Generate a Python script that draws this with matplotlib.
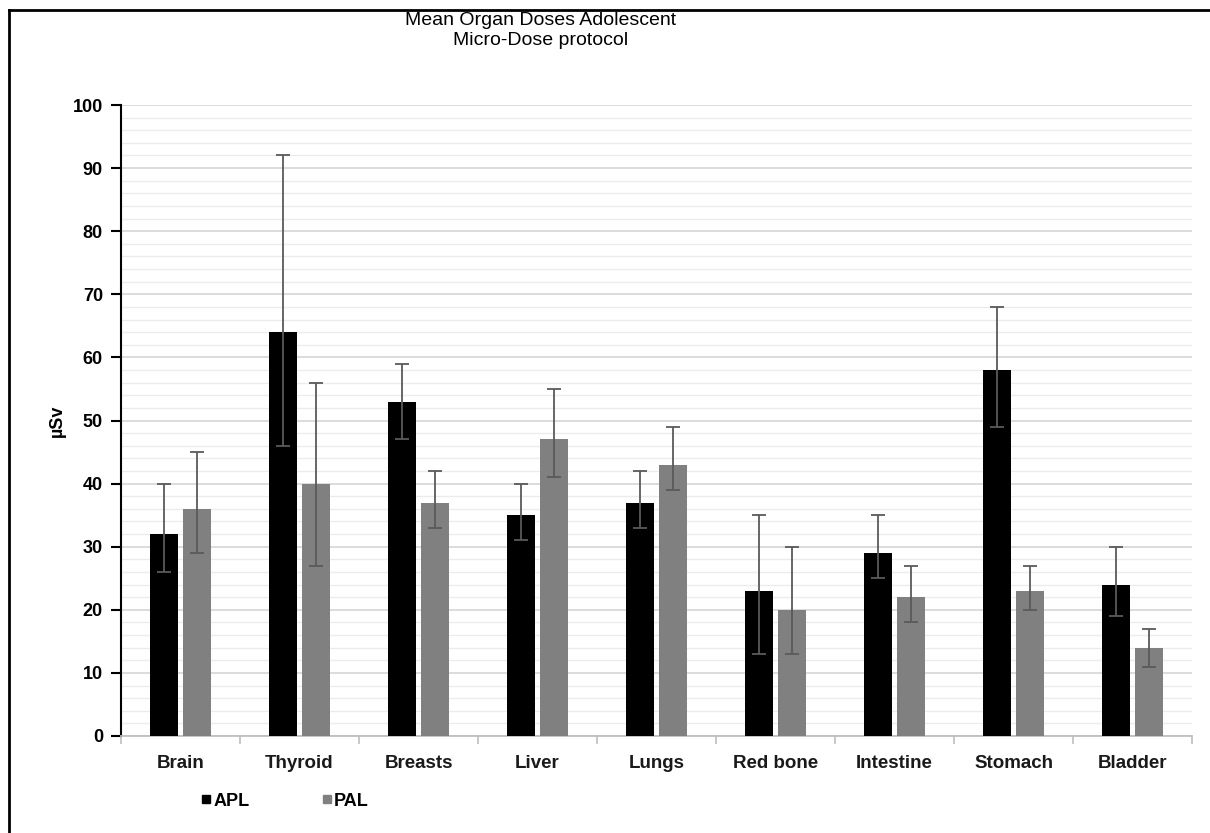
import matplotlib
matplotlib.use("Agg")
import matplotlib.pyplot as plt
from matplotlib.lines import Line2D
import numpy as np

plt.rcParams['font.family'] = ['Liberation Sans', 'DejaVu Sans']

categories = ["Brain", "Thyroid", "Breasts", "Liver", "Lungs", "Red bone", "Intestine", "Stomach", "Bladder"]
apl_mean = [32, 64, 53, 35, 37, 23, 29, 58, 24]
apl_low = [26, 46, 47, 31, 33, 13, 25, 49, 19]
apl_high = [40, 92, 59, 40, 42, 35, 35, 68, 30]
pal_mean = [36, 40, 37, 47, 43, 20, 22, 23, 14]
pal_low = [29, 27, 33, 41, 39, 13, 18, 20, 11]
pal_high = [45, 56, 42, 55, 49, 30, 27, 27, 17]
y_ticks = [0, 10, 20, 30, 40, 50, 60, 70, 80, 90, 100]

W, H = 1210, 833
fig = plt.figure(figsize=(W / 100, H / 100), dpi=100)
ax = fig.add_axes([121 / W, 1 - 736 / H, (1192 - 121) / W, (736 - 105) / H])

x = np.arange(len(categories))
bw = 0.23
off = 0.14
apl_err = [np.array(apl_mean) - np.array(apl_low), np.array(apl_high) - np.array(apl_mean)]
pal_err = [np.array(pal_mean) - np.array(pal_low), np.array(pal_high) - np.array(pal_mean)]
ekw = dict(ecolor="#5a5a5a", elinewidth=1.3, capsize=5, capthick=1.3)
ax.bar(x - off, apl_mean, bw, color="black", yerr=apl_err, error_kw=ekw, zorder=3, label="APL")
ax.bar(x + off, pal_mean, bw, color="#808080", yerr=pal_err, error_kw=ekw, zorder=3, label="PAL")

ax.set_xlim(-0.5, len(categories) - 0.5)
ax.set_ylim(0, 100)
ax.set_yticks(y_ticks)
ax.set_yticks(np.arange(0, 101, 2), minor=True)
ax.grid(axis="y", which="major", color="#d9d9d9", linewidth=1.3, zorder=0)
ax.grid(axis="y", which="minor", color="#ececec", linewidth=1.0, zorder=0)
ax.set_axisbelow(True)

for s in ["top", "right"]:
    ax.spines[s].set_visible(False)
ax.spines["left"].set_color("black")
ax.spines["left"].set_linewidth(1.5)
ax.spines["bottom"].set_color("#bfbfbf")
ax.spines["bottom"].set_linewidth(1.3)

ax.tick_params(axis="y", which="major", length=7, width=1.5, color="black",
               labelsize=13, pad=6)
ax.tick_params(axis="y", which="minor", length=0)
ax.set_xticks(x)
ax.set_xticklabels(categories)
ax.set_xticks(np.arange(-0.5, len(categories), 1), minor=True)
ax.tick_params(axis="x", which="major", length=0, labelsize=13.5, pad=14, labelcolor="#1a1a1a")
ax.tick_params(axis="x", which="minor", length=6, width=1.2, color="#bfbfbf")
for lbl in ax.get_yticklabels():
    lbl.set_fontweight("bold")
for lbl in ax.get_xticklabels():
    lbl.set_fontweight("bold")

ax.set_ylabel("µSv", fontsize=13, fontweight="bold", labelpad=5)

fig.text(541 / W, 1 - 30.5 / H, "Mean Organ Doses Adolescent\nMicro-Dose protocol",
         ha="center", va="center", fontsize=14, linespacing=1.3, color="black")

handles = [Line2D([], [], marker="s", linestyle="none", color="black", markersize=6),
           Line2D([], [], marker="s", linestyle="none", color="#808080", markersize=6)]
fig.legend(handles, ["APL", "PAL"], loc="center left", bbox_to_anchor=(172 / W, 1 - 801 / H),
           ncol=2, frameon=False, handletextpad=-0.62, columnspacing=3.3,
           prop={"weight": "bold", "size": 13})

fig.add_artist(Line2D([9 / W, 1], [1 - 9.5 / H, 1 - 9.5 / H], color="black", linewidth=2,
                      transform=fig.transFigure))
fig.add_artist(Line2D([9 / W, 9 / W], [0, 1 - 9.5 / H], color="black", linewidth=2,
                      transform=fig.transFigure))

fig.savefig("out.png", dpi=100)
